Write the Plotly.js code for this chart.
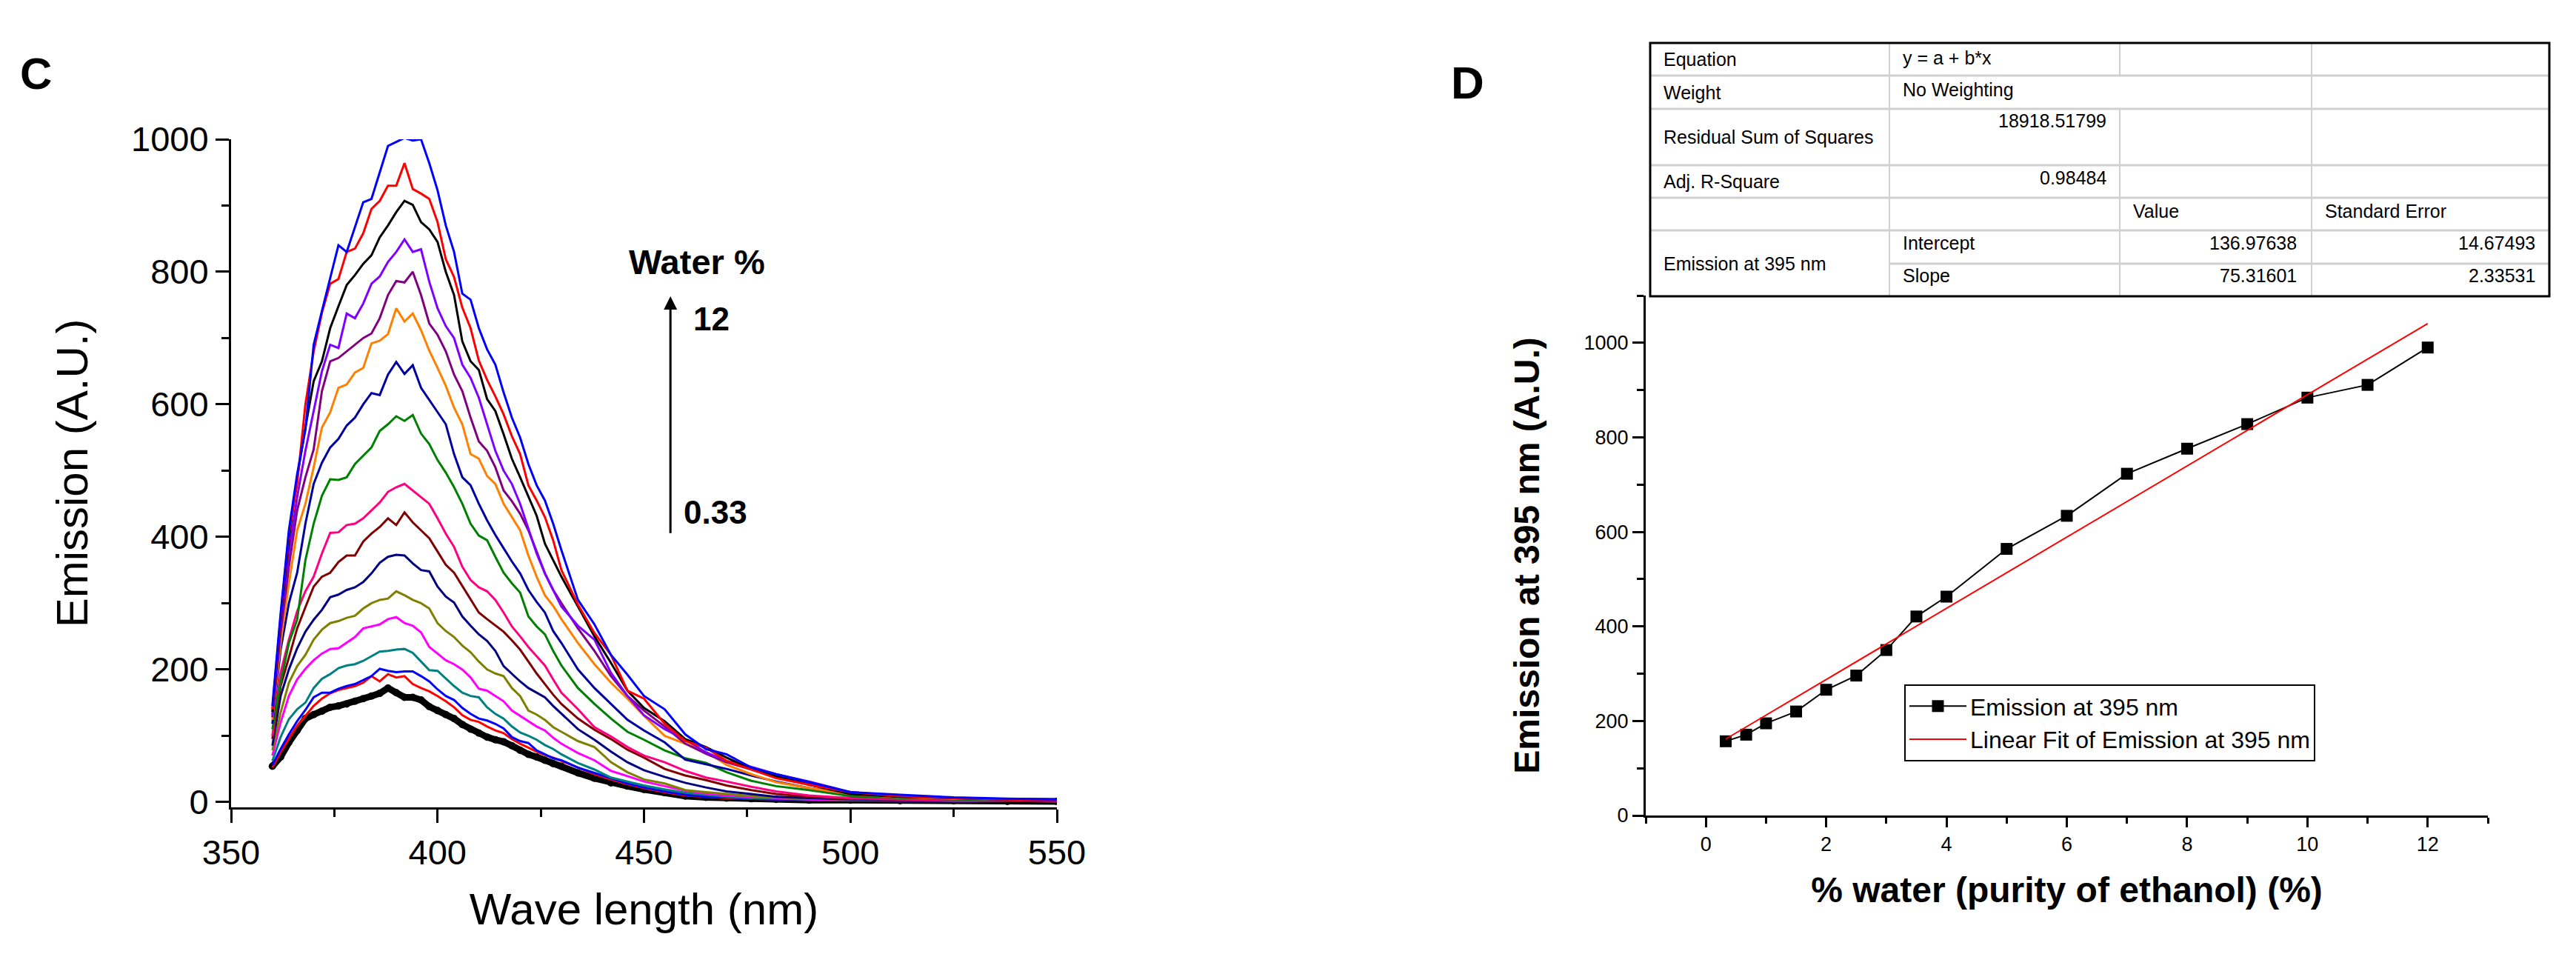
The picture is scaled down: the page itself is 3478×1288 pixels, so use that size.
<!DOCTYPE html>
<html>
<head>
<meta charset="utf-8">
<script src="https://cdn.plot.ly/plotly-3.0.1.min.js"></script>
<style>
  html, body { margin: 0; padding: 0; background: #fff; }
  #chart { width: 3478px; height: 1288px; }
</style>
</head>
<body>
<div id="chart"></div>
<script>
// ---- panel C: emission spectra, one per water content ----
const wavelength = [360,362,364,366,368,370,372,374,376,378,380,382,384,386,388,390,392,394,396,398,
  400,402,404,406,408,410,412,414,416,418,420,422,424,426,428,430,434,438,442,446,
  450,455,460,465,470,476,482,490,500,512,525,538,550];

const water_0_33 = [54,68,90,108,126,132,137,143,145,148, 152,156,160,164,172,165,158,158,154,144,
  138,132,126,117,110,104,98,94,91,85, 78,72,68,63,58,54,44,36,29,24, 19,14,9,7,6,5,4,3,3,2, 2,1,1];
const water_0_67 = [52,75,95,115,130,145,156,164,169,172, 175,180,190,182,193,188,190,178,172,167,
  160,152,143,131,124,121,114,108,104,95, 88,82,76,71,67,62,52,42,34,27, 21,15,10,8,6,5,4,3,3,2, 2,2,1];
const water_1 = [56,80,102,122,139,158,165,165,171,175, 178,184,190,201,198,196,197,197,190,182,
  170,160,154,142,133,126,123,118,111,98, 92,89,78,72,66,63,52,44,36,28, 22,16,11,8,7,5,4,4,3,2, 2,2,1];
const water_1_5 = [62,98,125,140,150,172,186,193,202,206, 208,213,220,227,228,230,231,225,212,199,
  198,186,175,165,160,158,143,133,126,114, 105,100,94,86,80,72,59,49,37,31, 25,19,14,11,8,6,5,4,3,3, 2,2,1];
const water_2 = [70,120,160,185,201,214,224,231,232,240, 249,262,265,268,276,279,270,266,256,234,
  224,214,208,200,188,171,168,160,152,138, 130,122,114,108,97,88,74,63,47,39, 31,24,17,13,10,8,6,4,3,3, 2,2,2];
const water_2_5 = [78,135,180,205,222,245,260,270,273,278, 281,292,300,305,307,318,312,305,300,292,
  270,258,249,236,226,212,200,194,190,172, 160,138,132,124,113,106,92,83,60,45, 34,28,18,15,12,9,7,5,4,3, 3,2,2];
const water_3 = [85,160,200,232,257,275,290,309,313,320, 324,332,345,361,370,373,372,360,350,348,
  325,310,301,280,266,253,243,228,205,193, 182,172,165,158,145,133,110,94,76,60, 48,38,29,22,16,12,8,6,4,3, 3,2,2];
const water_3_5 = [95,175,218,262,294,325,340,346,362,372, 372,393,405,415,428,418,437,422,410,398,
  378,358,346,326,305,286,276,266,257,244, 230,212,194,178,162,148,126,109,95,79, 67,50,40,33,25,18,12,8,5,4, 3,2,2];
const water_4 = [100,195,245,288,318,340,375,406,407,418, 420,428,440,452,468,475,480,470,460,450,
  428,405,385,355,335,324,318,305,286,265, 250,234,220,206,185,165,140,113,99,83, 70,60,47,37,31,23,16,10,6,4, 3,3,2];
const water_5 = [110,180,240,275,365,420,462,487,486,490, 510,523,535,560,570,582,575,584,556,540,
  516,497,475,450,420,402,395,370,346,330, 316,280,265,253,228,206,172,148,126,106, 94,78,66,59,45,32,24,18,9,6, 4,3,3];
const water_6 = [118,230,300,346,420,480,512,535,548,568, 580,600,617,614,645,664,646,659,625,607,
  588,570,525,490,478,450,425,403,383,363, 345,320,302,286,258,240,200,172,148,124, 108,90,64,57,50,40,31,21,12,7, 5,4,3];
const water_7 = [124,240,330,410,450,505,565,588,625,630, 648,655,692,696,706,745,725,737,712,681,
  655,628,595,570,525,518,492,480,450,430, 410,372,340,312,296,276,240,208,180,156, 130,100,88,76,56,42,30,21,12,7, 5,4,3];
const water_8 = [128,255,355,440,490,532,620,665,670,680, 689,700,707,730,765,786,784,800,765,722,
  705,680,645,620,580,544,530,505,470,454, 435,410,378,345,320,300,262,228,190,160, 138,114,88,73,60,49,38,28,14,8, 6,4,3];
const water_9 = [132,265,375,460,530,590,650,690,685,737, 730,752,782,793,815,830,849,830,834,785,
  745,718,700,660,640,610,570,530,500,480, 450,412,375,345,320,295,266,245,195,160, 131,110,94,75,62,53,42,31,15,9, 6,4,3];
const water_10 = [136,275,395,490,565,635,665,715,748,780, 795,812,825,852,870,890,907,901,875,864,
  845,800,765,695,665,652,608,590,555,518, 490,462,432,390,365,340,295,250,210,168, 142,122,95,83,67,50,39,26,12,8, 6,4,3];
const water_11 = [140,280,405,480,600,680,738,782,789,830, 835,858,895,907,930,930,964,925,918,910,
  875,819,792,746,715,666,637,612,585,552, 525,478,455,430,395,350,298,255,222,168, 156,118,92,82,62,49,36,26,15,9, 6,4,3];
const water_12 = [145,285,410,495,562,690,741,789,840,830, 867,905,910,950,990,996,1002,998,1000,964,
  923,870,830,767,758,715,683,660,618,580, 550,510,478,455,420,380,305,268,222,192, 160,140,102,80,72,52,42,30,15,11, 7,5,4];

const water_levels = ['0.33','0.67','1','1.5','2','2.5','3','3.5','4','5','6','7','8','9','10','11','12'];
const spectra = [water_0_33, water_0_67, water_1, water_1_5, water_2, water_2_5, water_3, water_3_5,
  water_4, water_5, water_6, water_7, water_8, water_9, water_10, water_11, water_12];

// ---- panel D: emission at 395 nm against water content, with linear fit ----
const water_pct = [0.33,0.67,1,1.5,2,2.5,3,3.5,4,5,6,7,8,9,10,11,12];
const emission_395 = [157,171,195,220,266,296,350,421,463,564,634,723,776,828,884,911,990];
const fit_x = [0.33, 12];
const fit_y = [161.8, 1040.8];

// fit report table
const stat_labels = ['Equation','Weight','Residual Sum of Squares','Adj. R-Square'];
const stat_values = ['y = a + b*x','No Weighting','18918.51799','0.98484'];
const param_headers = ['Value','Standard Error'];
const param_names = ['Intercept','Slope'];
const param_values = ['136.97638','75.31601'];
const param_errors = ['14.67493','2.33531'];
const param_group = 'Emission at 395 nm';

// ---- styling ----
const W = 3478, H = 1288;
const FONT = "'Liberation Sans', Arial, Helvetica, sans-serif";
const px = v => v / W;
const py = v => 1 - v / H;

const curve_colors = ['#000000','#FF0000','#0000FF','#008080','#FF00FF','#808000','#000080','#800000',
  '#FF0080','#008000','#0000A0','#FF8000','#800080','#8000FF','#000000','#FF0000','#0000FF'];

let traces = spectra.map((vals, i) => ({
  x: wavelength,
  y: vals,
  name: water_levels[i] + ' %',
  xaxis: 'x', yaxis: 'y',
  mode: i === 0 ? 'lines+markers' : 'lines',
  line: {color: curve_colors[i], width: i === 0 ? 9 : 3},
  marker: {size: 10, color: curve_colors[i]},
  showlegend: false,
  hoverinfo: 'skip'
}));

traces.push({
  x: water_pct, y: emission_395,
  name: 'Emission at 395 nm',
  xaxis: 'x2', yaxis: 'y2',
  mode: 'lines+markers',
  line: {color: '#000', width: 2},
  marker: {symbol: 'square', size: 16, color: '#000'}
});
traces.push({
  x: fit_x, y: fit_y,
  name: 'Linear Fit of Emission at 395 nm',
  xaxis: 'x2', yaxis: 'y2',
  mode: 'lines',
  line: {color: '#FF0000', width: 2}
});

const axis_base = {
  showline: true, linewidth: 3, linecolor: '#000',
  showgrid: false, zeroline: false,
  ticks: 'outside', tickwidth: 3, tickcolor: '#000',
  automargin: false, fixedrange: true
};

// table grid
const tbl = {l: 2228, r: 3442, t: 58, b: 400, cols: [2551, 2862, 3121], rows: [102, 147, 223, 267, 311, 356]};
let shapes = [];
const gray_line = (x0, y0, x1, y1, w) => ({type: 'line', xref: 'paper', yref: 'paper',
  x0: px(x0), y0: py(y0), x1: px(x1), y1: py(y1), line: {color: '#d0d0d0', width: w}});
tbl.rows.forEach((r, i) => shapes.push(gray_line(i === 5 ? tbl.cols[0] : tbl.l, r, tbl.r, r, 3)));
shapes.push(gray_line(tbl.cols[0], tbl.t, tbl.cols[0], tbl.b, 2));
shapes.push(gray_line(tbl.cols[1], tbl.t, tbl.cols[1], tbl.rows[0], 2));
shapes.push(gray_line(tbl.cols[1], tbl.rows[1], tbl.cols[1], tbl.b, 2));
shapes.push(gray_line(tbl.cols[2], tbl.t, tbl.cols[2], tbl.b, 2));
shapes.push({type: 'rect', xref: 'paper', yref: 'paper', x0: px(tbl.l), x1: px(tbl.r), y0: py(tbl.t), y1: py(tbl.b),
  line: {color: '#000', width: 3}, fillcolor: 'rgba(0,0,0,0)'});

let annotations = [];
const note = (text, x, y, anchor, size, bold) => annotations.push({
  xref: 'paper', yref: 'paper', x: px(x), y: py(y), xanchor: anchor, yanchor: 'middle',
  text: bold ? '<b>' + text + '</b>' : text, showarrow: false,
  font: {family: FONT, size: size, color: '#000'}
});

// table text
const TS = 25;
const label_y = [80, 125, 185, 245];
const value_y = [78, 121, 163, 240];
stat_labels.forEach((t, i) => note(t, 2244, label_y[i], 'left', TS));
stat_values.forEach((t, i) => note(t, i < 2 ? 2567 : 2846, value_y[i], i < 2 ? 'left' : 'right', TS));
note(param_headers[0], 2878, 285, 'left', TS);
note(param_headers[1], 3137, 285, 'left', TS);
note(param_group, 2244, 356, 'left', TS);
[328, 372].forEach((y, i) => {
  note(param_names[i], 2567, y, 'left', TS);
  note(param_values[i], 3103, y, 'right', TS);
  note(param_errors[i], 3425, y, 'right', TS);
});

// panel letters and water % marker
note('C', 48, 100, 'center', 60, true);
note('D', 1982, 112, 'center', 62, true);
note('Water %', 941, 353, 'center', 47, true);
note(water_levels[water_levels.length - 1], 960, 430, 'center', 44, true);
note(water_levels[0], 966, 691, 'center', 44, true);
annotations.push({
  xref: 'x', yref: 'y', x: 456.4, y: 763, axref: 'x', ayref: 'y', ax: 456.4, ay: 404,
  text: '', showarrow: true, arrowhead: 2, arrowsize: 1.2, arrowwidth: 3, arrowcolor: '#000'
});

const layout = {
  width: W, height: H,
  margin: {l: 0, r: 0, t: 0, b: 0},
  paper_bgcolor: '#fff', plot_bgcolor: '#fff',
  font: {family: FONT, color: '#000'},
  showlegend: true,
  xaxis: Object.assign({}, axis_base, {
    domain: [px(312), px(1427)], range: [350, 550], anchor: 'y',
    tick0: 350, dtick: 50, ticklen: 18, tickfont: {size: 47},
    minor: {dtick: 25, ticks: 'outside', ticklen: 10, tickwidth: 3, tickcolor: '#000', showgrid: false},
    title: {text: 'Wave length (nm)', font: {size: 60}, standoff: 30}
  }),
  yaxis: Object.assign({}, axis_base, {
    domain: [py(1090), py(188)], range: [-8, 1000], anchor: 'x',
    tick0: 0, dtick: 200, ticklen: 18, tickfont: {size: 47},
    minor: {dtick: 100, ticks: 'outside', ticklen: 10, tickwidth: 3, tickcolor: '#000', showgrid: false},
    title: {text: 'Emission (A.U.)', font: {size: 60}, standoff: 40}
  }),
  xaxis2: Object.assign({}, axis_base, {
    domain: [px(2222), px(3359)], range: [-1, 13], anchor: 'y2',
    tick0: 0, dtick: 2, ticklen: 13, tickfont: {size: 27},
    minor: {dtick: 1, ticks: 'outside', ticklen: 8, tickwidth: 3, tickcolor: '#000', showgrid: false},
    title: {text: '<b>% water (purity of ethanol) (%)</b>', font: {size: 48}, standoff: 30}
  }),
  yaxis2: Object.assign({}, axis_base, {
    domain: [py(1101), py(399)], range: [0, 1100], anchor: 'x2',
    tick0: 0, dtick: 200, ticklen: 15, tickfont: {size: 27},
    minor: {dtick: 100, ticks: 'outside', ticklen: 9, tickwidth: 3, tickcolor: '#000', showgrid: false},
    title: {text: '<b>Emission at 395 nm (A.U.)</b>', font: {size: 48}, standoff: 45}
  }),
  legend: {
    x: px(2571), y: py(924), xanchor: 'left', yanchor: 'top',
    bgcolor: '#fff', bordercolor: '#000', borderwidth: 2,
    font: {family: FONT, size: 32, color: '#000'},
    itemwidth: 77, tracegroupgap: 0
  },
  shapes: shapes,
  annotations: annotations
};

Plotly.newPlot('chart', traces, layout, {displayModeBar: false, staticPlot: true});
</script>
</body>
</html>
